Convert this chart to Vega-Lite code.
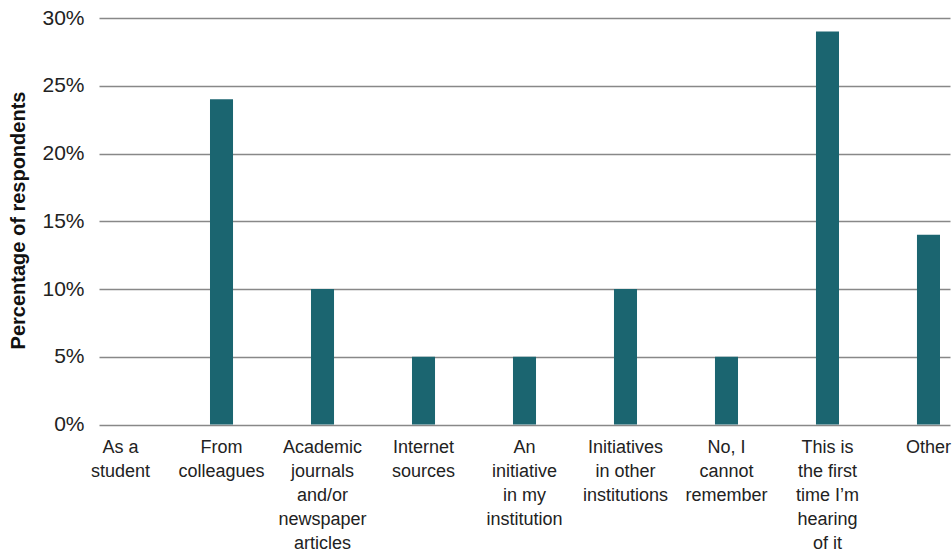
{
  "$schema": "https://vega.github.io/schema/vega-lite/v6.json",
  "autosize": "none",
  "padding": {"left": 99, "top": 18, "right": 2, "bottom": 130},
  "width": 851,
  "height": 406.5,
  "background": "white",
  "config": {"view": {"stroke": null}, "font": "Liberation Sans"},
  "data": {
    "values": [
      {"category": "As a|student", "value": 0},
      {"category": "From|colleagues", "value": 24},
      {"category": "Academic|journals|and/or|newspaper|articles", "value": 10},
      {"category": "Internet|sources", "value": 5},
      {"category": "An|initiative|in my|institution", "value": 5},
      {"category": "Initiatives|in other|institutions", "value": 10},
      {"category": "No, I|cannot|remember", "value": 5},
      {"category": "This is|the first|time I’m|hearing|of it", "value": 29},
      {"category": "Other", "value": 14}
    ]
  },
  "mark": {"type": "bar", "color": "#1b6570"},
  "encoding": {
    "x": {
      "field": "category",
      "type": "nominal",
      "sort": null,
      "scale": {"paddingInner": 0.772, "paddingOuter": 0.099},
      "axis": {
        "title": null,
        "labelAngle": 0,
        "labelExpr": "split(datum.label, '|')",
        "labelFont": "Liberation Sans",
        "labelFontSize": 18,
        "labelColor": "#222222",
        "labelLineHeight": 24,
        "labelBaseline": "top",
        "labelPadding": 14,
        "ticks": false,
        "domain": false,
        "labelOverlap": false,
        "labelBound": false
      }
    },
    "y": {
      "field": "value",
      "type": "quantitative",
      "scale": {"domain": [0, 30]},
      "axis": {
        "title": "Percentage of respondents",
        "titleFont": "Liberation Sans",
        "titleFontSize": 20,
        "titleFontWeight": "bold",
        "titleColor": "#111111",
        "titleX": -81,
        "titleY": 202,
        "titleBaseline": "middle",
        "titleAngle": -90,
        "values": [0, 5, 10, 15, 20, 25, 30],
        "labelExpr": "datum.value + '%'",
        "labelFont": "Liberation Sans",
        "labelFontSize": 21,
        "labelColor": "#222222",
        "labelPadding": 15,
        "ticks": false,
        "domain": false,
        "grid": true,
        "gridColor": "#888888",
        "gridWidth": 1.3
      }
    }
  }
}
